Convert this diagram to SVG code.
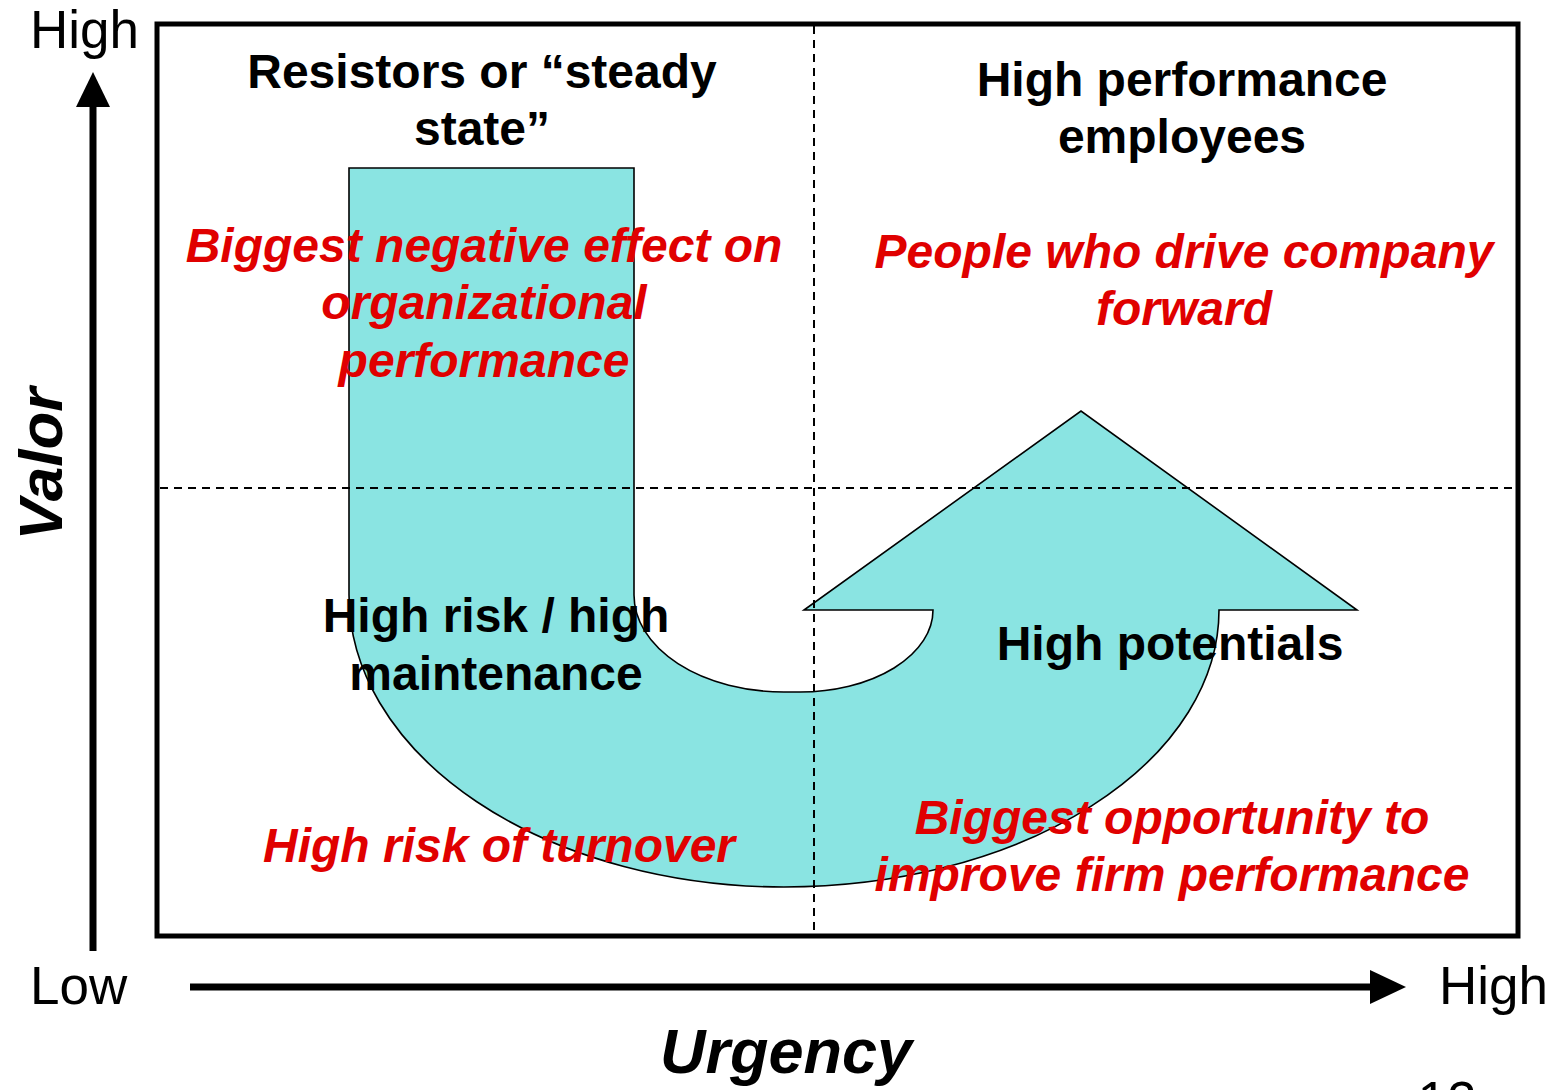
<svg xmlns="http://www.w3.org/2000/svg" width="1549" height="1090" viewBox="0 0 1549 1090">
<style>
.t{font-family:"Liberation Sans",Arial,sans-serif;font-weight:bold;font-size:48px;fill:#000;text-anchor:middle}
.r{font-family:"Liberation Sans",Arial,sans-serif;font-weight:bold;font-style:italic;font-size:48px;fill:#e00000;text-anchor:middle}
.ax{font-family:"Liberation Sans",Arial,sans-serif;font-size:53px;fill:#000}
.axt{font-family:"Liberation Sans",Arial,sans-serif;font-weight:bold;font-style:italic;fill:#000;text-anchor:middle}
.dash{stroke:#000;stroke-width:2;stroke-dasharray:8,6;fill:none}
</style>
<rect width="1549" height="1090" fill="#fff"/>
<g id="u-arrow">
<path d="M349,168 H634 V595 A150,97 0 0 0 784,692 H800 A133,82 0 0 0 933,610 H804 L1081,411 L1357,610 H1219 A435,277 0 0 1 784,887 A435,292 0 0 1 349,595 Z" fill="#8ae4e2" stroke="#000" stroke-width="1.6"/>
</g>
<g id="connectors">
<line class="dash" x1="814" y1="26" x2="814" y2="934"/>
<line class="dash" x1="160" y1="488" x2="1516" y2="488"/>
<line x1="93" y1="951" x2="93" y2="100" stroke="#000" stroke-width="7"/>
<polygon points="93,72 76,107 110,107" fill="#000"/>
<line x1="190" y1="987" x2="1375" y2="987" stroke="#000" stroke-width="7"/>
<polygon points="1406,987 1370,970 1370,1004" fill="#000"/>
</g>
<g id="frame">
<rect x="157" y="24" width="1361" height="912" fill="none" stroke="#000" stroke-width="5"/>
</g>
<g id="q-top-left">
<text class="t" x="482" y="88">Resistors or “steady</text>
<text class="t" x="482" y="145">state”</text>
<text class="r" x="484" y="262">Biggest negative effect on</text>
<text class="r" x="484" y="319">organizational</text>
<text class="r" x="484" y="377">performance</text>
</g>
<g id="q-top-right">
<text class="t" x="1182" y="96">High performance</text>
<text class="t" x="1182" y="153">employees</text>
<text class="r" x="1184" y="268">People who drive company</text>
<text class="r" x="1184" y="325">forward</text>
</g>
<g id="q-bottom-left">
<text class="t" x="496" y="632">High risk / high</text>
<text class="t" x="496" y="690">maintenance</text>
<text class="r" x="499" y="862">High risk of turnover</text>
</g>
<g id="q-bottom-right">
<text class="t" x="1170" y="660">High potentials</text>
<text class="r" x="1172" y="834">Biggest opportunity to</text>
<text class="r" x="1172" y="891">improve firm performance</text>
</g>
<g id="axes-labels">
<text class="ax" x="30" y="48">High</text>
<text class="ax" x="30" y="1004">Low</text>
<text class="ax" x="1439" y="1004">High</text>
<text class="axt" font-size="62" transform="translate(62,464) rotate(-90)">Valor</text>
<text class="axt" font-size="63" x="786" y="1073">Urgency</text>
<text class="ax" font-size="40" x="1447" y="1119" text-anchor="middle">12</text>
</g>
</svg>
